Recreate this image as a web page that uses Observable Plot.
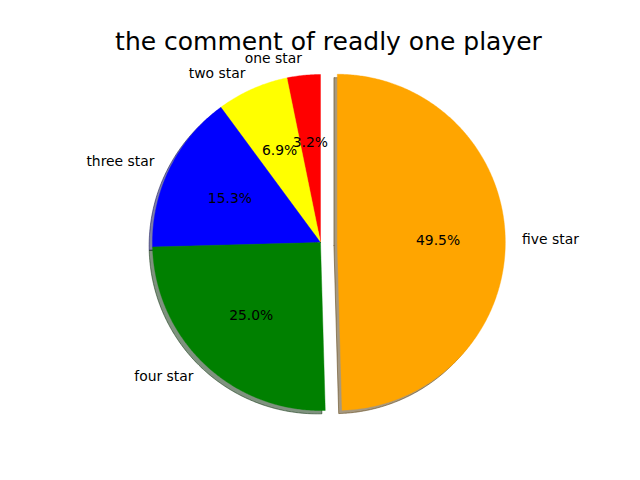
<!DOCTYPE html>
<html>
<head>
<meta charset="utf-8">
<script src="https://cdn.jsdelivr.net/npm/d3@7"></script>
<script src="https://cdn.jsdelivr.net/npm/@observablehq/plot@0.6"></script>
<style>
  html, body { margin: 0; padding: 0; background: #fff; }
  svg { display: block; }
</style>
</head>
<body>
<div id="chart"></div>
<script>
const title = "the comment of readly one player";
const labels = ["one star", "two star", "three star", "four star", "five star"];
const values = [3.2, 6.9, 15.3, 25.0, 49.5];
const colors = ["red", "yellow", "blue", "green", "orange"];
const explode = [0, 0, 0, 0, 0.1];

const total = d3.sum(values);
const rad = Math.PI / 180;

// shadow colour = 0.3 * face colour (drawn at alpha 0.5)
function darken(c) {
  const k = d3.rgb(c);
  return d3.rgb(k.r * 0.3, k.g * 0.3, k.b * 0.3).formatRgb();
}

const wedgePts = [];
const shadowPts = [];
const pctText = [];
const labText = [];
let cum = 0;
values.forEach((v, i) => {
  const a0 = 90 + 360 * cum / total;
  const a1 = 90 + 360 * (cum + v) / total;
  cum += v;
  const mid = (a0 + a1) / 2 * rad;
  const ox = explode[i] * Math.cos(mid);
  const oy = explode[i] * Math.sin(mid);
  const pts = [[ox, oy]];
  const n = Math.max(2, Math.ceil((a1 - a0) / 0.5));
  for (let k = 0; k <= n; k++) {
    const a = (a0 + (a1 - a0) * k / n) * rad;
    pts.push([ox + Math.cos(a), oy + Math.sin(a)]);
  }
  pts.push([ox, oy]);
  for (const [x, y] of pts) {
    wedgePts.push({id: i, x, y, c: colors[i]});
    shadowPts.push({id: i, x: x - 0.02, y: y - 0.02, c: darken(colors[i])});
  }
  pctText.push({x: ox + 0.6 * Math.cos(mid), y: oy + 0.6 * Math.sin(mid), t: v.toFixed(1) + "%"});
  labText.push({x: ox + 1.1 * Math.cos(mid), y: oy + 1.1 * Math.sin(mid), t: labels[i]});
});

const R = 168, cx = 320, cy = 242, W = 640, H = 480;
const font = "DejaVu Sans, Liberation Sans, sans-serif";

const chart = Plot.plot({
  width: W,
  height: H,
  margin: 0,
  style: {fontFamily: font, background: "#fff"},
  x: {domain: [-cx / R, (W - cx) / R], range: [0, W], axis: null},
  y: {domain: [-(H - cy) / R, cy / R], range: [H, 0], axis: null},
  color: {type: "identity"},
  marks: [
    Plot.line(shadowPts, {x: "x", y: "y", z: "id", fill: "c", fillOpacity: 0.5, stroke: "c", strokeOpacity: 0.5, strokeWidth: 1, curve: "linear"}),
    Plot.line(wedgePts, {x: "x", y: "y", z: "id", fill: "c", stroke: "c", strokeWidth: 0.4, curve: "linear"}),
    Plot.text(pctText, {x: "x", y: "y", text: "t", fontSize: 13.9, fill: "black", textAnchor: "middle"}),
    Plot.text(labText.filter(d => d.x >= 0), {x: "x", y: "y", text: "t", fontSize: 13.9, fill: "black", textAnchor: "start"}),
    Plot.text(labText.filter(d => d.x < 0), {x: "x", y: "y", text: "t", fontSize: 13.9, fill: "black", textAnchor: "end"}),
    Plot.text([title], {frameAnchor: "top", lineAnchor: "bottom", dx: 8, dy: 49, fontSize: 25, fill: "black", textAnchor: "middle"})
  ]
});
document.getElementById("chart").appendChild(chart);
</script>
</body>
</html>
